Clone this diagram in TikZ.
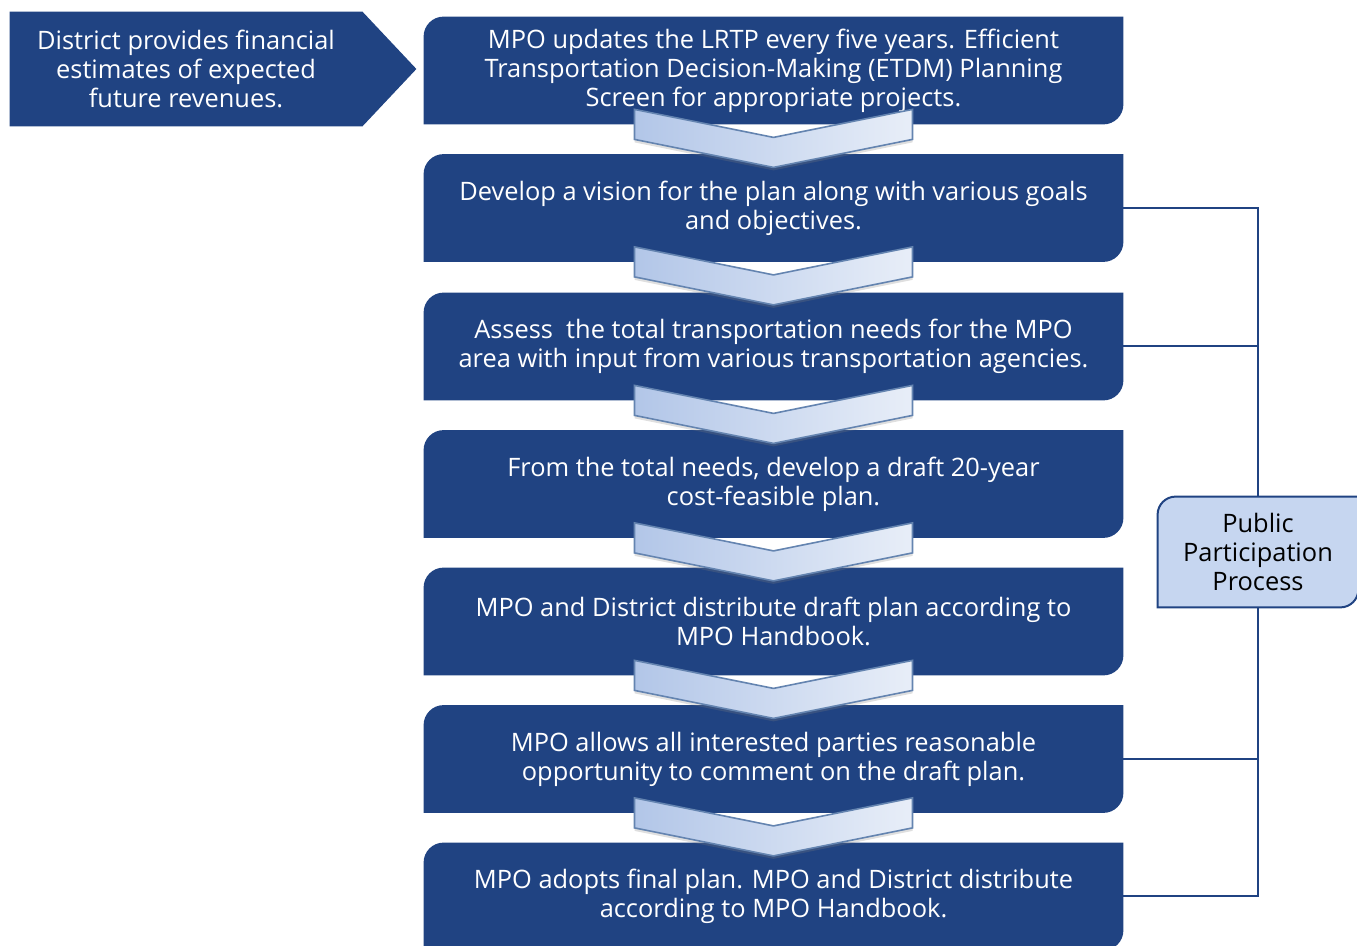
\documentclass[tikz,border=0pt]{standalone}
\usepackage{fontspec}
\setmainfont{Open Sans}
\usetikzlibrary{positioning,calc,backgrounds,shadows}

\definecolor{boxblue}{RGB}{32,67,130}
\definecolor{partblue}{RGB}{198,214,240}
\definecolor{chevleft}{RGB}{178,198,232}
\definecolor{chevright}{RGB}{232,238,248}
\definecolor{chevedge}{RGB}{100,132,176}

\begin{document}
\begin{tikzpicture}[x=0.5pt,y=-0.5pt,
	step_box/.style={rectangle,minimum width=349.5pt,minimum height=53.5pt,inner sep=0pt,text=white,align=center,font=\fontsize{12.7}{14.5}\selectfont},
	dist_box/.style={rectangle,minimum width=176pt,minimum height=57pt,inner sep=0pt,text=white,align=center,font=\fontsize{12.7}{14.5}\selectfont},
	part_box/.style={rectangle,minimum width=100pt,minimum height=55pt,inner sep=0pt,text=black,align=center,font=\fontsize{12.7}{14.5}\selectfont},
	chev/.style={left color=chevleft,right color=chevright,draw=chevedge,line width=0.8pt,drop shadow={opacity=0.25,shadow xshift=0pt,shadow yshift=-1.5pt}},
	link/.style={draw=boxblue,line width=1pt}]

	\useasboundingbox (0,0) rectangle (1357,946);

	\node[dist_box] (dist) at (186,69) {District provides financial\\estimates of expected\\future revenues.};

	\node[step_box] (s1) at (773.5,70.5) {MPO updates the LRTP every five years. Efficient\\Transportation Decision-Making (ETDM) Planning\\Screen for appropriate projects.};
	\node[step_box] (s2) at (773.5,208) {Develop a vision for the plan along with various goals\\and objectives.};
	\node[step_box] (s3) at (773.5,346.5) {Assess\ \ the total transportation needs for the MPO\\area with input from various transportation agencies.};
	\node[step_box] (s4) at (773.5,484) {From the total needs, develop a draft 20-year\\cost-feasible plan.};
	\node[step_box] (s5) at (773.5,621.5) {MPO and District distribute draft plan according to\\MPO Handbook.};
	\node[step_box] (s6) at (773.5,759) {MPO allows all interested parties reasonable\\opportunity to comment on the draft plan.};
	\node[step_box] (s7) at (773.5,896.5) {MPO adopts final plan. MPO and District distribute\\according to MPO Handbook.};

	\node[part_box] (ppp) at (1258,552) {Public\\Participation\\Process};

	% box shapes behind the texts
	\begin{scope}[on background layer]
		\fill[boxblue] (dist.north west) -- (dist.north east) -- ($(dist.east)+(54,0)$) -- (dist.south east) -- (dist.south west) -- cycle;
		\foreach \i in {1,...,7}
			\fill[boxblue] (s\i.south west) [rounded corners=10pt] -- (s\i.north west) [sharp corners] -- (s\i.north east) [rounded corners=10pt] -- (s\i.south east) [sharp corners] -- cycle;
		\filldraw[fill=partblue,draw=boxblue,line width=1pt] (ppp.south west) [rounded corners=9pt] -- (ppp.north west) [sharp corners] -- (ppp.north east) [rounded corners=9pt] -- (ppp.south east) [sharp corners] -- cycle;
	\end{scope}

	% chevrons between the steps
	\foreach \i in {1,...,6}
		\path[chev] ($(s\i.south)+(-139,-15)$) -- ($(s\i.south)+(0,13)$) -- ($(s\i.south)+(139,-15)$) -- ($(s\i.south)+(139,15)$) -- ($(s\i.south)+(0,43)$) -- ($(s\i.south)+(-139,15)$) -- cycle;

	\draw[link] (s2.east) -| (ppp.north);
	\draw[link] (s3.east) -| (ppp.north);
	\draw[link] (s6.east) -| (ppp.south);
	\draw[link] (s7.east) -| (ppp.south);
\end{tikzpicture}
\end{document}
